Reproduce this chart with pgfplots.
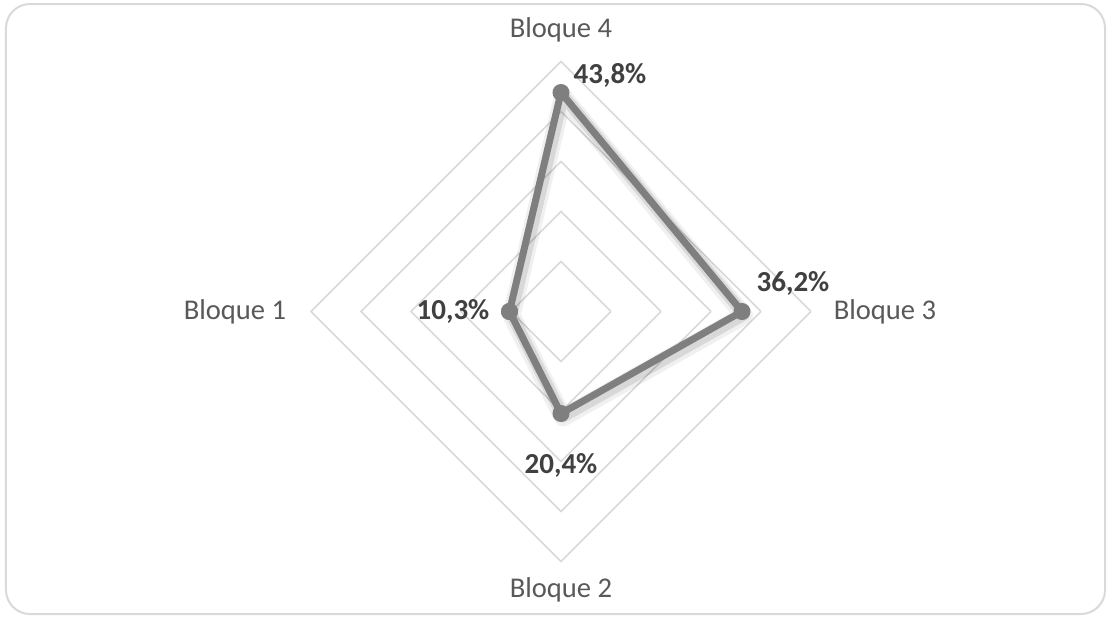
\documentclass[border=0pt]{standalone}
\usepackage{fontspec}
\setmainfont{Carlito}
\usepackage{pgfplots}
\usepackage{pgfplotstable}
\pgfplotsset{compat=1.18}
\definecolor{gridc}{HTML}{D9D9D9}
\definecolor{linec}{HTML}{7F7F7F}
\definecolor{labc}{HTML}{595959}
\definecolor{valc}{HTML}{404040}
\pgfplotstableread{
angle r
180 0.103
270 0.204
0   0.362
90  0.438
180 0.103
}\datatab
\begin{document}
\begin{tikzpicture}
\useasboundingbox (-280.5pt,-152.75pt) rectangle (273.5pt,155.75pt);
\draw[gridc, line width=1pt, rounded corners=12pt] (-277.5pt,-151.25pt) rectangle (272pt,153.75pt);
\begin{axis}[
  x=250pt, y=250pt,
  xmin=-0.5, xmax=0.5, ymin=-0.5, ymax=0.5,
  hide axis, clip=false,
  anchor=origin, at={(0,0)},
]
\foreach \lv in {0.1,0.2,0.3,0.4,0.5}{
  \edef\tmp{\noexpand\addplot[gridc, line width=0.8pt, data cs=polar] coordinates {(0,\lv) (90,\lv) (180,\lv) (270,\lv) (360,\lv)};}
  \tmp
}
% shadow
\addplot[black, opacity=0.06, line width=9pt, line join=round, data cs=polar, shift={(1pt,-2pt)}] table[x=angle, y=r] {\datatab};
\addplot[black, opacity=0.10, line width=6pt, line join=round, data cs=polar, shift={(1pt,-1.5pt)}] table[x=angle, y=r] {\datatab};
\addplot[linec, line width=3.5pt, line join=round, data cs=polar,
  mark=*, mark size=4pt, mark options={fill=linec, draw=linec, line width=0.5pt}] table[x=angle, y=r] {\datatab};
\node[text=labc, font=\fontsize{14.3}{17}\selectfont] at (axis cs:0,0.563) {Bloque 4};
\node[text=labc, font=\fontsize{14.3}{17}\selectfont] at (axis cs:0,-0.557) {Bloque 2};
\node[text=labc, font=\fontsize{14.3}{17}\selectfont] at (axis cs:-0.652,0) {Bloque 1};
\node[text=labc, font=\fontsize{14.3}{17}\selectfont] at (axis cs:0.648,0) {Bloque 3};
\node[text=valc, font=\bfseries\fontsize{14.5}{17}\selectfont] at (axis cs:0.098,0.473) {43,8\%};
\node[text=valc, font=\bfseries\fontsize{14.5}{17}\selectfont] at (axis cs:0.464,0.056) {36,2\%};
\node[text=valc, font=\bfseries\fontsize{14.5}{17}\selectfont] at (axis cs:-0.216,0) {10,3\%};
\node[text=valc, font=\bfseries\fontsize{14.5}{17}\selectfont] at (axis cs:0,-0.307) {20,4\%};
\end{axis}
\end{tikzpicture}
\end{document}
